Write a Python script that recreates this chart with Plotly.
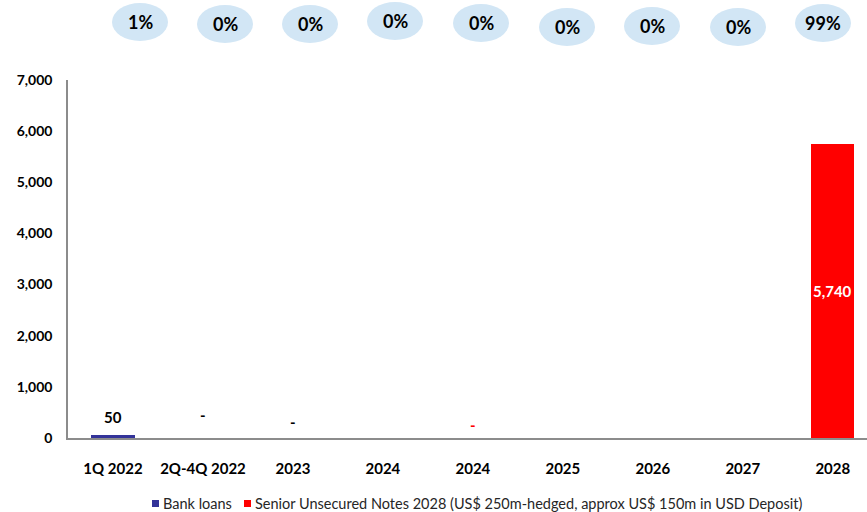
import plotly.graph_objects as go

# Debt maturity profile (millions)
categories = ["1Q 2022", "2Q-4Q 2022", "2023", "2024", "2024", "2025", "2026", "2027", "2028"]
bank_loans = [50, 0, 0, 0, 0, 0, 0, 0, 0]
senior_notes = [0, 0, 0, 0, 0, 0, 0, 0, 5740]
bank_labels = ["50", "-", "-", "", "", "", "", "", ""]
note_labels = ["", "", "", "", "-", "", "", "", "5,740"]
y_ticks = [0, 1000, 2000, 3000, 4000, 5000, 6000, 7000]

series_names = [
    "Bank loans",
    "Senior Unsecured Notes 2028 (US$ 250m-hedged, approx US$ 150m in USD Deposit)",
]

FONT = "Lato"
BLUE = "#333399"
RED = "#ff0000"

x = list(range(len(categories)))
totals = [a + b for a, b in zip(bank_loans, senior_notes)]
grand_total = sum(totals)
shares = [f"{round(100 * t / grand_total)}%" for t in totals]

fig = go.Figure()
fig.add_trace(go.Bar(x=x, y=bank_loans, name=series_names[0], showlegend=False,
                     marker=dict(color=BLUE, line=dict(width=0)), width=0.48))
fig.add_trace(go.Bar(x=x, y=senior_notes, name=series_names[1], showlegend=False,
                     marker=dict(color=RED, line=dict(width=0)), width=0.48))

annotations = []
# small value labels above the zero / tiny bars
dash_shift = {0: 18, 1: 23, 2: 16, 4: 13}
for i, (lab, v) in enumerate(zip(bank_labels, bank_loans)):
    if lab:
        annotations.append(dict(x=i, y=v, text=f"<b>{lab}</b>", showarrow=False,
                                yshift=dash_shift.get(i, 16),
                                font=dict(family=FONT, size=15, color="#000000")))
for i, (lab, v) in enumerate(zip(note_labels, senior_notes)):
    if not lab:
        continue
    if v > 0:
        annotations.append(dict(x=i, y=v / 2, text=f"<b>{lab}</b>", showarrow=False,
                                font=dict(family=FONT, size=15, color="#ffffff")))
    else:
        annotations.append(dict(x=i, y=v, text=f"<b>{lab}</b>", showarrow=False,
                                yshift=dash_shift.get(i, 16),
                                font=dict(family=FONT, size=15, color=RED)))

# plot area in pixels, used to place the decorations in paper coordinates
PL, PT, PW, PH = 68, 80, 799, 358


def px_x(px):
    return (px - PL) / PW


def px_y(py):
    return (PT + PH - py) / PH


# share-of-total bubbles along the top
bubble_x = [140, 225, 310, 395, 481, 567, 652, 738, 823]
bubble_y = [22, 24, 24, 21, 23, 27, 26, 27, 23]
shapes = []
for bx, by, s in zip(bubble_x, bubble_y, shares):
    shapes.append(dict(type="circle", xref="paper", yref="paper",
                       x0=px_x(bx - 28), x1=px_x(bx + 28),
                       y0=px_y(by + 19), y1=px_y(by - 19),
                       fillcolor="#d2e6f5", line=dict(width=0), layer="above"))
    annotations.append(dict(xref="paper", yref="paper", x=px_x(bx), y=px_y(by),
                            xanchor="center", yanchor="middle",
                            text=f"<b>{s}</b>", showarrow=False,
                            font=dict(family=FONT, size=18, color="#000000")))

# compact legend along the bottom
legend_items = [(152, BLUE, series_names[0]), (244, RED, series_names[1])]
for lx, col, name in legend_items:
    shapes.append(dict(type="rect", xref="paper", yref="paper",
                       x0=px_x(lx), x1=px_x(lx + 7), y0=px_y(507), y1=px_y(500),
                       fillcolor=col, line=dict(width=0)))
    annotations.append(dict(xref="paper", yref="paper", x=px_x(lx + 9), y=px_y(503.5),
                            xanchor="left", yanchor="middle", text=name, showarrow=False,
                            font=dict(family=FONT, size=14.5, color="#262626")))

fig.update_layout(
    width=867, height=512,
    margin=dict(l=PL, r=0, t=PT, b=512 - PT - PH, autoexpand=False),
    paper_bgcolor="white", plot_bgcolor="white",
    barmode="stack", bargap=0.52,
    font=dict(family=FONT, size=14, color="#000000"),
    showlegend=False,
    shapes=shapes,
    annotations=annotations,
)
fig.update_xaxes(
    range=[-0.5, 8.38], tickvals=x, ticktext=[f"<b>{c}</b>" for c in categories],
    showline=True, linecolor="#8c8c8c", linewidth=1.5, showgrid=False, zeroline=False,
    ticks="", ticklabelstandoff=16, tickfont=dict(family=FONT, size=15, color="#000000"),
)
fig.update_yaxes(
    range=[0, 7000], tickvals=y_ticks, ticktext=[f"<b>{v:,}</b>" for v in y_ticks],
    showline=True, linecolor="#8c8c8c", linewidth=1.5, showgrid=False, zeroline=False,
    ticks="", ticklabelstandoff=11, tickfont=dict(family=FONT, size=14, color="#000000"),
)

fig.write_html("out.html")
